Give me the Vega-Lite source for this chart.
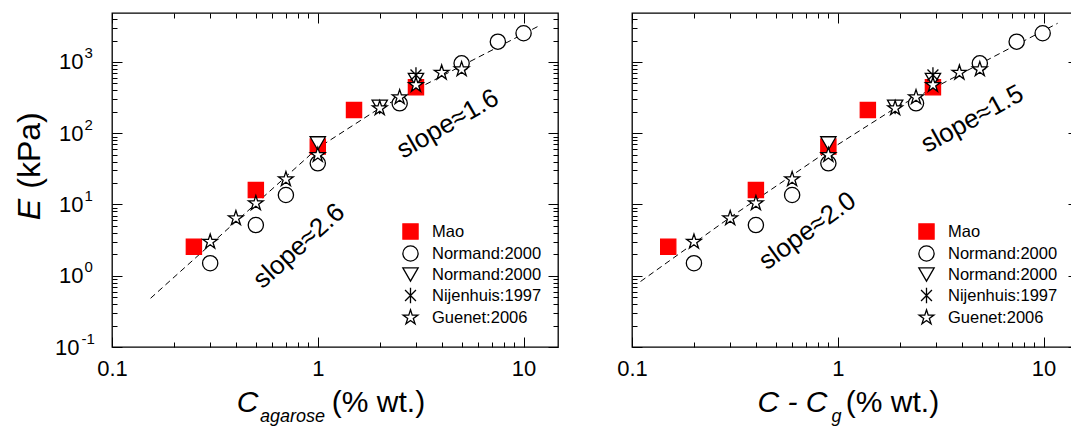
{
  "$schema": "https://vega.github.io/schema/vega-lite/v6.json",
  "background": "white",
  "padding": {"left": 12, "top": 11, "right": 0, "bottom": 0},
  "bounds": "flush",
  "spacing": 74,
  "config": {
    "font": "Liberation Sans",
    "view": {"stroke": "black", "strokeWidth": 1.3},
    "axis": {"grid": false, "domain": false, "tickColor": "black", "tickWidth": 1, "labelColor": "black", "titleColor": "black", "titleFontWeight": "normal", "labelFont": "Liberation Sans", "titleFont": "Liberation Sans"},
    "text": {"font": "Liberation Sans", "color": "black"}
  },
  "datasets": {
    "pts": [
      {"series": "Mao", "c": 0.25, "cg": 0.15, "e": 2.56},
      {"series": "Mao", "c": 0.5, "cg": 0.4, "e": 16.0},
      {"series": "Mao", "c": 1.0, "cg": 0.9, "e": 65},
      {"series": "Mao", "c": 1.5, "cg": 1.4, "e": 212},
      {"series": "Mao", "c": 3.0, "cg": 2.9, "e": 441},
      {"series": "Normand:2000", "c": 0.3, "cg": 0.2, "e": 1.5},
      {"series": "Normand:2000", "c": 0.5, "cg": 0.4, "e": 5.15},
      {"series": "Normand:2000", "c": 0.7, "cg": 0.6, "e": 13.6},
      {"series": "Normand:2000", "c": 1.0, "cg": 0.9, "e": 37.8},
      {"series": "Normand:2000", "c": 2.5, "cg": 2.4, "e": 263},
      {"series": "Normand:2000", "c": 5.0, "cg": 4.9, "e": 957},
      {"series": "Normand:2000", "c": 7.5, "cg": 7.4, "e": 1928},
      {"series": "Normand:2000", "c": 10.0, "cg": 9.9, "e": 2530},
      {"series": "Normand:2000 (b)", "c": 1.0, "cg": 0.9, "e": 72},
      {"series": "Normand:2000 (b)", "c": 2.0, "cg": 1.9, "e": 236},
      {"series": "Normand:2000 (b)", "c": 3.0, "cg": 2.9, "e": 558},
      {"series": "Nijenhuis:1997", "c": 3.0, "cg": 2.9, "e": 657},
      {"series": "Guenet:2006", "c": 0.3, "cg": 0.2, "e": 3.0},
      {"series": "Guenet:2006", "c": 0.4, "cg": 0.3, "e": 6.4},
      {"series": "Guenet:2006", "c": 0.5, "cg": 0.4, "e": 10.4},
      {"series": "Guenet:2006", "c": 0.7, "cg": 0.6, "e": 22.6},
      {"series": "Guenet:2006", "c": 1.0, "cg": 0.9, "e": 49.5},
      {"series": "Guenet:2006", "c": 2.0, "cg": 1.9, "e": 224},
      {"series": "Guenet:2006", "c": 2.5, "cg": 2.4, "e": 319},
      {"series": "Guenet:2006", "c": 3.0, "cg": 2.9, "e": 476},
      {"series": "Guenet:2006", "c": 4.0, "cg": 3.9, "e": 708},
      {"series": "Guenet:2006", "c": 5.0, "cg": 4.9, "e": 789}
    ],
    "fitL": [
      {"x": 0.154, "y": 0.483},
      {"x": 1.0, "y": 62},
      {"x": 2.0, "y": 225},
      {"x": 12.1, "y": 3300}
    ],
    "fitR": [
      {"x": 0.11, "y": 0.83},
      {"x": 0.3, "y": 6.6},
      {"x": 0.9, "y": 57},
      {"x": 1.9, "y": 225},
      {"x": 11.7, "y": 3490}
    ]
  },
  "hconcat": [
    {
      "width": 446,
      "height": 334,
      "resolve": {"axis": {"x": "independent", "y": "independent"}},
      "layer": [
        {
          "data": {"name": "fitL"},
          "mark": {"type": "line", "color": "black", "strokeWidth": 1, "strokeDash": [6, 4]},
          "encoding": {
            "x": {"field": "x", "type": "quantitative", "scale": {"type": "log", "domain": [0.1, 14.7], "nice": false},
              "axis": {"orient": "bottom", "values": [0.1, 1, 10], "ticks": false, "labelFontSize": 22, "labelPadding": 11, "labelFlush": false, "labelOverlap": false,
                "labelExpr": "datum.value < 0.5 ? '0.1' : datum.value < 5 ? '1' : '10'",
                "title": "C", "titleFontSize": 30, "titleFontStyle": "italic", "titleX": 135, "titleY": 64, "titleAlign": "center", "titleBaseline": "alphabetic"}},
            "y": {"field": "y", "type": "quantitative", "scale": {"type": "log", "domain": [0.1, 4870], "nice": false},
              "axis": {"orient": "left", "values": [0.1, 1, 10, 100, 1000], "ticks": false, "labelFontSize": 22, "labelOverlap": false, "labelBaseline": "middle",
                "labelPadding": {"condition": {"test": "datum.value < 0.5", "value": 33}, "value": 29},
                "labelExpr": "'10'",
                "title": "E", "titleFontSize": 32, "titleFontStyle": "italic", "titleAngle": -90, "titleX": -73, "titleY": 196, "titleAlign": "center", "titleBaseline": "alphabetic"}}
          }
        },
        {
          "data": {"name": "pts"},
          "mark": {"type": "point", "strokeWidth": 1.3, "opacity": 1},
          "encoding": {
            "x": {"field": "c", "type": "quantitative", "scale": {"type": "log", "domain": [0.1, 14.7], "nice": false},
              "axis": {"orient": "bottom", "values": [0.1, 0.2, 0.3, 0.4, 0.5, 0.6, 0.7, 0.8, 0.9, 1, 2, 3, 4, 5, 6, 7, 8, 9, 10], "labels": false,
                "tickSize": {"condition": {"test": "datum.value == 0.1 || datum.value == 1 || datum.value == 10", "value": -10}, "value": -5},
                "title": "agarose", "titleFontSize": 18, "titleFontStyle": "italic", "titleX": 180, "titleY": 74, "titleAlign": "center", "titleBaseline": "alphabetic"}},
            "y": {"field": "e", "type": "quantitative", "scale": {"type": "log", "domain": [0.1, 4870], "nice": false},
              "axis": {"orient": "left", "values": [0.1, 1, 10, 100, 1000], "ticks": false, "labelFontSize": 15, "labelOverlap": false, "labelAlign": "left", "labelBaseline": "middle",
                "labelPadding": {"condition": {"test": "datum.value < 0.5", "value": 31}, "value": 28},
                "labelOffset": -9,
                "labelExpr": "datum.value < 0.5 ? '-1' : datum.value < 5 ? '0' : datum.value < 50 ? '1' : datum.value < 500 ? '2' : '3'",
                "title": "(kPa)", "titleFontSize": 32, "titleAngle": -90, "titleX": -73, "titleY": 137, "titleAlign": "center", "titleBaseline": "alphabetic"}},
            "shape": {"field": "series", "type": "nominal",
              "scale": {"domain": ["Mao", "Normand:2000", "Normand:2000 (b)", "Nijenhuis:1997", "Guenet:2006"],
                "range": ["square", "circle", "triangle-down", "M0,-1L0,1M-0.707,-0.707L0.707,0.707M-0.707,0.707L0.707,-0.707", "M0,-1L0.2245,-0.309L0.9511,-0.309L0.3633,0.118L0.5878,0.809L0,0.382L-0.5878,0.809L-0.3633,0.118L-0.9511,-0.309L-0.2245,-0.309Z"]},
              "legend": {"orient": "none", "legendX": 290, "legendY": 210, "title": null, "padding": 0, "labelFontSize": 16.5, "labelFont": "Liberation Sans", "labelColor": "black", "labelOffset": 13, "rowPadding": 1, "symbolStrokeWidth": 1.3, "symbolOpacity": 1,
                "labelExpr": "datum.label == 'Normand:2000 (b)' ? 'Normand:2000' : datum.label"}},
            "fill": {"field": "series", "type": "nominal", "scale": {"domain": ["Mao", "Normand:2000", "Normand:2000 (b)", "Nijenhuis:1997", "Guenet:2006"], "range": ["#ff0000", "white", "white", "white", "white"]}},
            "stroke": {"field": "series", "type": "nominal", "scale": {"domain": ["Mao", "Normand:2000", "Normand:2000 (b)", "Nijenhuis:1997", "Guenet:2006"], "range": ["#ff0000", "black", "black", "black", "black"]}},
            "size": {"field": "series", "type": "nominal", "scale": {"domain": ["Mao", "Normand:2000", "Normand:2000 (b)", "Nijenhuis:1997", "Guenet:2006"], "range": [230, 240, 340, 380, 360]}}
          }
        },
        {
          "data": {"values": [{"x": 0.81, "y": 2.62, "text": "slope≈2.6"}]},
          "mark": {"type": "text", "angle": 318, "fontSize": 26, "align": "center", "baseline": "middle", "color": "black"},
          "encoding": {
            "x": {"field": "x", "type": "quantitative", "scale": {"type": "log", "domain": [0.1, 14.7], "nice": false},
              "axis": {"orient": "top", "values": [0.1, 0.2, 0.3, 0.4, 0.5, 0.6, 0.7, 0.8, 0.9, 1, 2, 3, 4, 5, 6, 7, 8, 9, 10], "labels": false,
                "tickSize": {"condition": {"test": "datum.value == 0.1 || datum.value == 1 || datum.value == 10", "value": -10}, "value": -5},
                "title": "(% wt.)", "titleFontSize": 30, "titleX": 266, "titleY": 398, "titleAlign": "center", "titleBaseline": "alphabetic"}},
            "y": {"field": "y", "type": "quantitative", "scale": {"type": "log", "domain": [0.1, 4870], "nice": false},
              "axis": {"orient": "left", "values": [0.1, 0.2, 0.3, 0.4, 0.5, 0.6, 0.7, 0.8, 0.9, 1, 2, 3, 4, 5, 6, 7, 8, 9, 10, 20, 30, 40, 50, 60, 70, 80, 90, 100, 200, 300, 400, 500, 600, 700, 800, 900, 1000, 2000, 3000, 4000], "labels": false, "title": null,
                "tickSize": {"condition": {"test": "datum.value == 0.1 || datum.value == 1 || datum.value == 10 || datum.value == 100 || datum.value == 1000", "value": -10}, "value": -5}}},
            "text": {"field": "text"}
          }
        },
        {
          "data": {"values": [{"x": 4.28, "y": 135, "text": "slope≈1.6"}]},
          "mark": {"type": "text", "angle": 330, "fontSize": 26, "align": "center", "baseline": "middle", "color": "black"},
          "encoding": {
            "x": {"field": "x", "type": "quantitative", "scale": {"type": "log", "domain": [0.1, 14.7], "nice": false}, "axis": null},
            "y": {"field": "y", "type": "quantitative", "scale": {"type": "log", "domain": [0.1, 4870], "nice": false},
              "axis": {"orient": "right", "values": [0.1, 0.2, 0.3, 0.4, 0.5, 0.6, 0.7, 0.8, 0.9, 1, 2, 3, 4, 5, 6, 7, 8, 9, 10, 20, 30, 40, 50, 60, 70, 80, 90, 100, 200, 300, 400, 500, 600, 700, 800, 900, 1000, 2000, 3000, 4000], "labels": false, "title": null,
                "tickSize": {"condition": {"test": "datum.value == 0.1 || datum.value == 1 || datum.value == 10 || datum.value == 100 || datum.value == 1000", "value": -10}, "value": -5}}},
            "text": {"field": "text"}
          }
        }
      ]
    },
    {
      "width": 446,
      "height": 334,
      "resolve": {"axis": {"x": "independent", "y": "independent"}},
      "layer": [
        {
          "data": {"name": "fitR"},
          "mark": {"type": "line", "color": "black", "strokeWidth": 1, "strokeDash": [6, 4]},
          "encoding": {
            "x": {"field": "x", "type": "quantitative", "scale": {"type": "log", "domain": [0.1, 14.7], "nice": false},
              "axis": {"orient": "bottom", "values": [0.1, 1, 10], "ticks": false, "labelFontSize": 22, "labelPadding": 11, "labelFlush": false, "labelOverlap": false,
                "labelExpr": "datum.value < 0.5 ? '0.1' : datum.value < 5 ? '1' : '10'",
                "title": "C - C", "titleFontSize": 30, "titleFontStyle": "italic", "titleX": 160, "titleY": 64, "titleAlign": "center", "titleBaseline": "alphabetic"}},
            "y": {"field": "y", "type": "quantitative", "scale": {"type": "log", "domain": [0.1, 4870], "nice": false},
              "axis": {"orient": "left", "values": [0.1, 0.2, 0.3, 0.4, 0.5, 0.6, 0.7, 0.8, 0.9, 1, 2, 3, 4, 5, 6, 7, 8, 9, 10, 20, 30, 40, 50, 60, 70, 80, 90, 100, 200, 300, 400, 500, 600, 700, 800, 900, 1000, 2000, 3000, 4000], "labels": false, "title": null,
                "tickSize": {"condition": {"test": "datum.value == 0.1 || datum.value == 1 || datum.value == 10 || datum.value == 100 || datum.value == 1000", "value": -10}, "value": -5}}}
          }
        },
        {
          "data": {"name": "pts"},
          "mark": {"type": "point", "strokeWidth": 1.3, "opacity": 1},
          "encoding": {
            "x": {"field": "cg", "type": "quantitative", "scale": {"type": "log", "domain": [0.1, 14.7], "nice": false},
              "axis": {"orient": "bottom", "values": [0.1, 0.2, 0.3, 0.4, 0.5, 0.6, 0.7, 0.8, 0.9, 1, 2, 3, 4, 5, 6, 7, 8, 9, 10], "labels": false,
                "tickSize": {"condition": {"test": "datum.value == 0.1 || datum.value == 1 || datum.value == 10", "value": -10}, "value": -5},
                "title": "g", "titleFontSize": 18, "titleFontStyle": "italic", "titleX": 204, "titleY": 74, "titleAlign": "center", "titleBaseline": "alphabetic"}},
            "y": {"field": "e", "type": "quantitative", "scale": {"type": "log", "domain": [0.1, 4870], "nice": false}, "axis": null},
            "shape": {"field": "series", "type": "nominal",
              "scale": {"domain": ["Mao", "Normand:2000", "Normand:2000 (b)", "Nijenhuis:1997", "Guenet:2006"],
                "range": ["square", "circle", "triangle-down", "M0,-1L0,1M-0.707,-0.707L0.707,0.707M-0.707,0.707L0.707,-0.707", "M0,-1L0.2245,-0.309L0.9511,-0.309L0.3633,0.118L0.5878,0.809L0,0.382L-0.5878,0.809L-0.3633,0.118L-0.9511,-0.309L-0.2245,-0.309Z"]},
              "legend": {"orient": "none", "legendX": 286, "legendY": 210, "title": null, "padding": 0, "labelFontSize": 16.5, "labelFont": "Liberation Sans", "labelColor": "black", "labelOffset": 13, "rowPadding": 1, "symbolStrokeWidth": 1.3, "symbolOpacity": 1,
                "labelExpr": "datum.label == 'Normand:2000 (b)' ? 'Normand:2000' : datum.label"}},
            "fill": {"field": "series", "type": "nominal", "scale": {"domain": ["Mao", "Normand:2000", "Normand:2000 (b)", "Nijenhuis:1997", "Guenet:2006"], "range": ["#ff0000", "white", "white", "white", "white"]}},
            "stroke": {"field": "series", "type": "nominal", "scale": {"domain": ["Mao", "Normand:2000", "Normand:2000 (b)", "Nijenhuis:1997", "Guenet:2006"], "range": ["#ff0000", "black", "black", "black", "black"]}},
            "size": {"field": "series", "type": "nominal", "scale": {"domain": ["Mao", "Normand:2000", "Normand:2000 (b)", "Nijenhuis:1997", "Guenet:2006"], "range": [230, 240, 340, 380, 360]}}
          }
        },
        {
          "data": {"values": [{"x": 0.713, "y": 4.25, "text": "slope≈2.0"}]},
          "mark": {"type": "text", "angle": 324, "fontSize": 26, "align": "center", "baseline": "middle", "color": "black"},
          "encoding": {
            "x": {"field": "x", "type": "quantitative", "scale": {"type": "log", "domain": [0.1, 14.7], "nice": false},
              "axis": {"orient": "top", "values": [0.1, 0.2, 0.3, 0.4, 0.5, 0.6, 0.7, 0.8, 0.9, 1, 2, 3, 4, 5, 6, 7, 8, 9, 10], "labels": false,
                "tickSize": {"condition": {"test": "datum.value == 0.1 || datum.value == 1 || datum.value == 10", "value": -10}, "value": -5},
                "title": "(% wt.)", "titleFontSize": 30, "titleX": 260, "titleY": 398, "titleAlign": "center", "titleBaseline": "alphabetic"}},
            "y": {"field": "y", "type": "quantitative", "scale": {"type": "log", "domain": [0.1, 4870], "nice": false},
              "axis": {"orient": "right", "values": [0.1, 0.2, 0.3, 0.4, 0.5, 0.6, 0.7, 0.8, 0.9, 1, 2, 3, 4, 5, 6, 7, 8, 9, 10, 20, 30, 40, 50, 60, 70, 80, 90, 100, 200, 300, 400, 500, 600, 700, 800, 900, 1000, 2000, 3000, 4000], "labels": false, "title": null,
                "tickSize": {"condition": {"test": "datum.value == 0.1 || datum.value == 1 || datum.value == 10 || datum.value == 100 || datum.value == 1000", "value": -10}, "value": -5}}},
            "text": {"field": "text"}
          }
        },
        {
          "data": {"values": [{"x": 4.51, "y": 158, "text": "slope≈1.5"}]},
          "mark": {"type": "text", "angle": 331, "fontSize": 26, "align": "center", "baseline": "middle", "color": "black"},
          "encoding": {
            "x": {"field": "x", "type": "quantitative", "scale": {"type": "log", "domain": [0.1, 14.7], "nice": false}, "axis": null},
            "y": {"field": "y", "type": "quantitative", "scale": {"type": "log", "domain": [0.1, 4870], "nice": false}, "axis": null},
            "text": {"field": "text"}
          }
        }
      ]
    }
  ],
  "resolve": {"scale": {"shape": "independent", "fill": "independent", "stroke": "independent", "size": "independent"}}
}
